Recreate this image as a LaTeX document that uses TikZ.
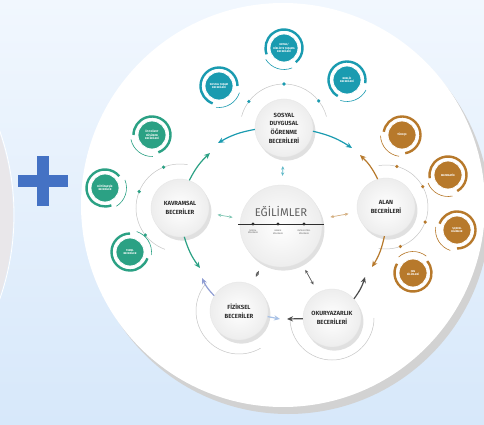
\documentclass[tikz,border=0pt]{standalone}
\usepackage{fontspec}
\setmainfont{Fira Sans}
\usetikzlibrary{arrows.meta}
\definecolor{sdteal}{HTML}{1A9BB0}
\definecolor{kvgreen}{HTML}{2BA184}
\definecolor{albrown}{HTML}{B7792B}
\definecolor{plusblue}{HTML}{4472C4}
\definecolor{bgtop}{HTML}{F1F7FE}
\definecolor{bgbot}{HTML}{D7E8FA}
\definecolor{lilac}{HTML}{8F9DD3}
\definecolor{paleblue}{HTML}{A8C1E6}
\definecolor{ink}{HTML}{2E2E2E}
\definecolor{leftgray}{HTML}{E9E7EA}
\newcommand\skillbubble[5]{%
  \node[skilldisc, fill=#3] (#1) at (#2) {#5};
  \draw[#3, line width=0.12cm] ([shift={(#4:18.5)}]#1.center) arc[start angle=#4, delta angle=250, radius=18.5];
  \draw[#3, line width=0.03cm] ([shift={({#4+262}:21.5)}]#1.center) arc[start angle={#4+262}, delta angle=80, radius=21.5];
}
\begin{document}
\begin{tikzpicture}[x=0.05cm,y=0.05cm,
  skill/.style={circle, minimum size=2.9cm, inner sep=0pt, align=center, text=ink,
    font=\fontsize{8.5}{12.3}\selectfont\bfseries, draw=gray!20, inner color=white, outer color=gray!14,
    preaction={fill=black, opacity=0.12, transform canvas={shift={(0.12cm,-0.18cm)}}}},
  skilldisc/.style={circle, minimum size=1.4cm, inner sep=0pt, align=center, draw=white,
    line width=0.04cm, text=white, font=\fontsize{3.8}{4.6}\selectfont\bfseries},
  ringarc/.style={gray!45, line width=0.025cm},
  link/.style={line width=0.06cm, -{Stealth[length=0.3cm,width=0.26cm]}},
  twoway/.style={line width=0.035cm, {Stealth[length=0.18cm,width=0.16cm]}-{Stealth[length=0.18cm,width=0.16cm]}},
  dotlabel/.style={font=\fontsize{3}{3.6}\selectfont, text=gray!70!black, align=center, inner sep=0pt}]
\useasboundingbox (0,0) rectangle (484,424);
\clip (0,0) rectangle (484,424);
\shade[top color=bgtop, bottom color=bgbot] (0,0) rectangle (484,424);
\fill[leftgray] (-240,209) circle (253);
\draw[white, line width=0.04cm] (-240,209) circle (254);
\fill[plusblue] (37,218) rectangle (49,268);
\fill[plusblue] (18,237) rectangle (68,249);
\fill[gray!35] (288,212) circle (202);
\fill[white] (283,219) circle (202);

\node[skill, minimum size=4.1cm] (ego) at (281,198) {};
\node[skill] (sdob) at (284,296) {SOSYAL\\DUYGUSAL\\ÖĞRENME\\BECERİLERİ};
\node[skill] (kav) at (180,216) {KAVRAMSAL\\BECERİLER};
\node[skill] (alan) at (386,217) {ALAN\\BECERİLERİ};
\node[skill] (fiz) at (239,113) {FİZİKSEL\\BECERİLER};
\node[skill] (oku) at (332,106) {OKURYAZARLIK\\BECERİLERİ};

\node[font=\fontsize{16}{16}\selectfont, text=gray!75!black] (egotitle) at (281,213) {EĞİLİMLER};
\draw[ink, line width=0.04cm] ([shift={(-43,2)}]ego.center) -- ([shift={(43,2)}]ego.center);
\foreach \dx in {-28,-3,23}
  \fill[ink] ([shift={(\dx,2)}]ego.center) circle (1.6);
\node[dotlabel] (egi1) at (253,192) {SOSYAL\\EĞİLİMLER};
\node[dotlabel] (egi2) at (278,192) {BENLİK\\EĞİLİMLER};
\node[dotlabel] (egi3) at (304,192) {ENTELEKTÜEL\\EĞİLİMLER};

\draw[ringarc] ([shift={(165:44)}]sdob.center) arc[start angle=165, end angle=15, radius=44];
\foreach \a in {143,90,38}
  \fill[sdteal] ([shift={(\a:44)}]sdob.center) circle (1.8);
\draw[ringarc] ([shift={(80:44)}]kav.center) arc[start angle=80, end angle=250, radius=44];
\foreach \a in {112,158,218}
  \fill[kvgreen] ([shift={(\a:44)}]kav.center) circle (1.8);
\draw[ringarc] ([shift={(100:42)}]alan.center) arc[start angle=100, end angle=-100, radius=42];
\foreach \a in {75,29,-21,-70}
  \fill[albrown] ([shift={(\a:42)}]alan.center) circle (1.8);
\draw[ringarc] ([shift={(140:43)}]fiz.center) arc[start angle=140, end angle=300, radius=43];
\draw[ringarc] ([shift={(180:42)}]oku.center) arc[start angle=180, end angle=360, radius=42];

\skillbubble{ortak}{284,376}{sdteal}{-50}{ORTAK/\\BİRLİKTE YAŞAMA\\BECERİLERİ}
\skillbubble{sosyasam}{219,338}{sdteal}{0}{SOSYAL YAŞAM\\BECERİLERİ}
\skillbubble{benlik}{347,344}{sdteal}{-10}{BENLİK\\BECERİLERİ}
\skillbubble{ustduzey}{152,289}{kvgreen}{-70}{ÜST DÜZEY\\DÜŞÜNME\\BECERİLERİ}
\skillbubble{butun}{105,236}{kvgreen}{40}{BÜTÜNLEŞİK\\BECERİLER}
\skillbubble{temel}{130,172}{kvgreen}{90}{TEMEL\\BECERİLER}
\skillbubble{turkce}{402,289}{albrown}{-80}{TÜRKÇE}
\skillbubble{mat}{448,249}{albrown}{-60}{MATEMATİK}
\skillbubble{sosbil}{457,194}{albrown}{-90}{SOSYAL\\BİLİMLER}
\skillbubble{fen}{413,151}{albrown}{150}{FEN\\BİLİMLERİ}

\coordinate (t1a) at (218,281);
\coordinate (t1b) at (210,271);
\coordinate (t2a) at (352,276);
\coordinate (t2b) at (360,269);
\coordinate (t3a) at (200,156);
\coordinate (t3b) at (202,146);
\coordinate (t4a) at (372,157);
\coordinate (t4b) at (365,147);
\coordinate (t5a) at (287,105);
\coordinate (t5b) at (280,105);
\draw[link, sdteal] (sdob) to[bend right=10] (t1a);
\draw[link, kvgreen] (kav) to[bend left=10] (t1b);
\draw[link, sdteal] (sdob) to[bend left=10] (t2a);
\draw[link, albrown] (alan) to[bend right=10] (t2b);
\draw[link, kvgreen] (kav) to[bend right=10] (t3a);
\draw[link, lilac] (fiz) to[bend left=10] (t3b);
\draw[link, albrown] (alan) to[bend left=10] (t4a);
\draw[link, gray!60!black] (oku) to[bend right=10] (t4b);
\draw[link, gray!60!black] (oku) -- (t5a);
\draw[link, paleblue] (fiz) -- (t5b);

\draw[twoway, sdteal!70, shorten <=0.45cm, shorten >=0.45cm] (ego) -- (sdob);
\draw[twoway, kvgreen!60, shorten <=0.4cm, shorten >=0.45cm] (ego) -- (kav);
\draw[twoway, albrown!60, shorten <=0.45cm, shorten >=0.45cm] (ego) -- (alan);
\draw[twoway, gray!70!black, shorten <=0.45cm, shorten >=0.45cm] (ego) -- (fiz);
\draw[twoway, gray!70!black, shorten <=0.45cm, shorten >=0.45cm] (ego) -- (oku);
\end{tikzpicture}
\end{document}
